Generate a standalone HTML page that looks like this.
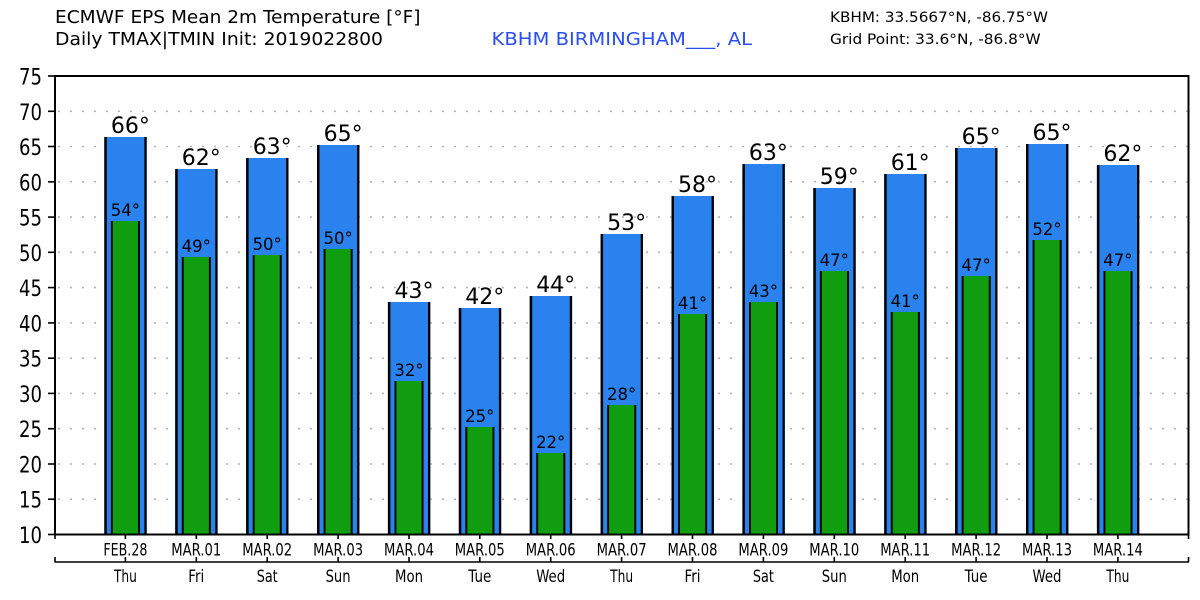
<!DOCTYPE html>
<html><head><meta charset="utf-8"><style>
html,body{margin:0;padding:0;background:#fff;}
svg{display:block;}
text{font-family:"DejaVu Sans","Liberation Sans",sans-serif;fill:#000;}
.c{font-family:"DejaVu Sans Condensed","DejaVu Sans","Liberation Sans",sans-serif;}
</style></head><body>
<svg width="1200" height="600" viewBox="0 0 1200 600" xmlns="http://www.w3.org/2000/svg">
<!-- header -->
<text x="55" y="23" font-size="18" textLength="365.5" lengthAdjust="spacingAndGlyphs">ECMWF EPS Mean 2m Temperature [°F]</text>
<text x="55" y="45" font-size="18" textLength="328" lengthAdjust="spacingAndGlyphs">Daily TMAX|TMIN Init: 2019022800</text>
<text x="491.5" y="45" font-size="18" style="fill:#2a4ef2" textLength="260.5" lengthAdjust="spacingAndGlyphs">KBHM BIRMINGHAM___, AL</text>
<text x="830" y="22" font-size="14.5" textLength="218" lengthAdjust="spacingAndGlyphs">KBHM: 33.5667°N, -86.75°W</text>
<text x="830" y="44" font-size="14.5" textLength="210.7" lengthAdjust="spacingAndGlyphs">Grid Point: 33.6°N, -86.8°W</text>

<!-- gridlines -->
<g stroke="#b4b4b4" stroke-width="1.6" stroke-dasharray="2 10">
<line x1="58" x2="1188" y1="499.2" y2="499.2"/>
<line x1="58" x2="1188" y1="464" y2="464"/>
<line x1="58" x2="1188" y1="428.7" y2="428.7"/>
<line x1="58" x2="1188" y1="393.4" y2="393.4"/>
<line x1="58" x2="1188" y1="358.2" y2="358.2"/>
<line x1="58" x2="1188" y1="322.9" y2="322.9"/>
<line x1="58" x2="1188" y1="287.6" y2="287.6"/>
<line x1="58" x2="1188" y1="252.3" y2="252.3"/>
<line x1="58" x2="1188" y1="217.1" y2="217.1"/>
<line x1="58" x2="1188" y1="181.8" y2="181.8"/>
<line x1="58" x2="1188" y1="146.5" y2="146.5"/>
<line x1="58" x2="1188" y1="111.3" y2="111.3"/>
</g>

<!-- bars -->
<g id="bars">
<rect x="104.3" y="137" width="42.4" height="397.5" fill="#2982ee"/>
<rect x="104.3" y="137" width="2.5" height="397.5" fill="#000"/>
<rect x="144.4" y="137" width="2.3" height="397.5" fill="#000"/>
<rect x="110.9" y="221" width="29" height="313.5" fill="#109e10"/>
<rect x="110.9" y="221" width="1.9" height="313.5" fill="#000"/>
<rect x="138" y="221" width="1.9" height="313.5" fill="#000"/>
<rect x="175.2" y="169" width="42.4" height="365.5" fill="#2982ee"/>
<rect x="175.2" y="169" width="2.5" height="365.5" fill="#000"/>
<rect x="215.3" y="169" width="2.3" height="365.5" fill="#000"/>
<rect x="181.8" y="257" width="29" height="277.5" fill="#109e10"/>
<rect x="181.8" y="257" width="1.9" height="277.5" fill="#000"/>
<rect x="208.9" y="257" width="1.9" height="277.5" fill="#000"/>
<rect x="246.1" y="158" width="42.4" height="376.5" fill="#2982ee"/>
<rect x="246.1" y="158" width="2.5" height="376.5" fill="#000"/>
<rect x="286.2" y="158" width="2.3" height="376.5" fill="#000"/>
<rect x="252.7" y="255" width="29" height="279.5" fill="#109e10"/>
<rect x="252.7" y="255" width="1.9" height="279.5" fill="#000"/>
<rect x="279.8" y="255" width="1.9" height="279.5" fill="#000"/>
<rect x="317" y="145" width="42.4" height="389.5" fill="#2982ee"/>
<rect x="317" y="145" width="2.5" height="389.5" fill="#000"/>
<rect x="357.1" y="145" width="2.3" height="389.5" fill="#000"/>
<rect x="323.6" y="249" width="29" height="285.5" fill="#109e10"/>
<rect x="323.6" y="249" width="1.9" height="285.5" fill="#000"/>
<rect x="350.7" y="249" width="1.9" height="285.5" fill="#000"/>
<rect x="387.9" y="302" width="42.4" height="232.5" fill="#2982ee"/>
<rect x="387.9" y="302" width="2.5" height="232.5" fill="#000"/>
<rect x="428" y="302" width="2.3" height="232.5" fill="#000"/>
<rect x="394.5" y="381" width="29" height="153.5" fill="#109e10"/>
<rect x="394.5" y="381" width="1.9" height="153.5" fill="#000"/>
<rect x="421.6" y="381" width="1.9" height="153.5" fill="#000"/>
<rect x="458.8" y="308" width="42.4" height="226.5" fill="#2982ee"/>
<rect x="458.8" y="308" width="2.5" height="226.5" fill="#000"/>
<rect x="498.9" y="308" width="2.3" height="226.5" fill="#000"/>
<rect x="465.4" y="427" width="29" height="107.5" fill="#109e10"/>
<rect x="465.4" y="427" width="1.9" height="107.5" fill="#000"/>
<rect x="492.5" y="427" width="1.9" height="107.5" fill="#000"/>
<rect x="529.7" y="296" width="42.4" height="238.5" fill="#2982ee"/>
<rect x="529.7" y="296" width="2.5" height="238.5" fill="#000"/>
<rect x="569.8" y="296" width="2.3" height="238.5" fill="#000"/>
<rect x="536.3" y="453" width="29" height="81.5" fill="#109e10"/>
<rect x="536.3" y="453" width="1.9" height="81.5" fill="#000"/>
<rect x="563.4" y="453" width="1.9" height="81.5" fill="#000"/>
<rect x="600.6" y="234" width="42.4" height="300.5" fill="#2982ee"/>
<rect x="600.6" y="234" width="2.5" height="300.5" fill="#000"/>
<rect x="640.7" y="234" width="2.3" height="300.5" fill="#000"/>
<rect x="607.2" y="405" width="29" height="129.5" fill="#109e10"/>
<rect x="607.2" y="405" width="1.9" height="129.5" fill="#000"/>
<rect x="634.3" y="405" width="1.9" height="129.5" fill="#000"/>
<rect x="671.5" y="196" width="42.4" height="338.5" fill="#2982ee"/>
<rect x="671.5" y="196" width="2.5" height="338.5" fill="#000"/>
<rect x="711.6" y="196" width="2.3" height="338.5" fill="#000"/>
<rect x="678.1" y="314" width="29" height="220.5" fill="#109e10"/>
<rect x="678.1" y="314" width="1.9" height="220.5" fill="#000"/>
<rect x="705.2" y="314" width="1.9" height="220.5" fill="#000"/>
<rect x="742.4" y="164" width="42.4" height="370.5" fill="#2982ee"/>
<rect x="742.4" y="164" width="2.5" height="370.5" fill="#000"/>
<rect x="782.5" y="164" width="2.3" height="370.5" fill="#000"/>
<rect x="749" y="302" width="29" height="232.5" fill="#109e10"/>
<rect x="749" y="302" width="1.9" height="232.5" fill="#000"/>
<rect x="776.1" y="302" width="1.9" height="232.5" fill="#000"/>
<rect x="813.3" y="188" width="42.4" height="346.5" fill="#2982ee"/>
<rect x="813.3" y="188" width="2.5" height="346.5" fill="#000"/>
<rect x="853.4" y="188" width="2.3" height="346.5" fill="#000"/>
<rect x="819.9" y="271" width="29" height="263.5" fill="#109e10"/>
<rect x="819.9" y="271" width="1.9" height="263.5" fill="#000"/>
<rect x="847" y="271" width="1.9" height="263.5" fill="#000"/>
<rect x="884.2" y="174" width="42.4" height="360.5" fill="#2982ee"/>
<rect x="884.2" y="174" width="2.5" height="360.5" fill="#000"/>
<rect x="924.3" y="174" width="2.3" height="360.5" fill="#000"/>
<rect x="890.8" y="312" width="29" height="222.5" fill="#109e10"/>
<rect x="890.8" y="312" width="1.9" height="222.5" fill="#000"/>
<rect x="917.9" y="312" width="1.9" height="222.5" fill="#000"/>
<rect x="955.1" y="148" width="42.4" height="386.5" fill="#2982ee"/>
<rect x="955.1" y="148" width="2.5" height="386.5" fill="#000"/>
<rect x="995.2" y="148" width="2.3" height="386.5" fill="#000"/>
<rect x="961.7" y="276" width="29" height="258.5" fill="#109e10"/>
<rect x="961.7" y="276" width="1.9" height="258.5" fill="#000"/>
<rect x="988.8" y="276" width="1.9" height="258.5" fill="#000"/>
<rect x="1026" y="144" width="42.4" height="390.5" fill="#2982ee"/>
<rect x="1026" y="144" width="2.5" height="390.5" fill="#000"/>
<rect x="1066.1" y="144" width="2.3" height="390.5" fill="#000"/>
<rect x="1032.6" y="240" width="29" height="294.5" fill="#109e10"/>
<rect x="1032.6" y="240" width="1.9" height="294.5" fill="#000"/>
<rect x="1059.7" y="240" width="1.9" height="294.5" fill="#000"/>
<rect x="1096.9" y="165" width="42.4" height="369.5" fill="#2982ee"/>
<rect x="1096.9" y="165" width="2.5" height="369.5" fill="#000"/>
<rect x="1137" y="165" width="2.3" height="369.5" fill="#000"/>
<rect x="1103.5" y="271" width="29" height="263.5" fill="#109e10"/>
<rect x="1103.5" y="271" width="1.9" height="263.5" fill="#000"/>
<rect x="1130.6" y="271" width="1.9" height="263.5" fill="#000"/>
</g>

<!-- TMAX labels -->
<g font-size="22" text-anchor="middle">
<text x="130.4" y="133">66°</text>
<text x="201.3" y="165">62°</text>
<text x="272.2" y="154">63°</text>
<text x="343.1" y="141">65°</text>
<text x="414" y="298">43°</text>
<text x="484.8" y="304">42°</text>
<text x="555.7" y="292">44°</text>
<text x="626.6" y="230">53°</text>
<text x="697.5" y="192">58°</text>
<text x="768.4" y="160">63°</text>
<text x="839.3" y="184">59°</text>
<text x="910.2" y="170">61°</text>
<text x="981.1" y="144">65°</text>
<text x="1052" y="140">65°</text>
<text x="1122.9" y="161">62°</text>
</g>
<!-- TMIN labels -->
<g font-size="16.5" text-anchor="middle">
<text x="125.4" y="216">54°</text>
<text x="196.3" y="252">49°</text>
<text x="267.2" y="250">50°</text>
<text x="338.1" y="244">50°</text>
<text x="409" y="376">32°</text>
<text x="479.8" y="422">25°</text>
<text x="550.7" y="448">22°</text>
<text x="621.6" y="400">28°</text>
<text x="692.5" y="309">41°</text>
<text x="763.4" y="297">43°</text>
<text x="834.3" y="266">47°</text>
<text x="905.2" y="307">41°</text>
<text x="976.1" y="271">47°</text>
<text x="1047" y="235">52°</text>
<text x="1117.9" y="266">47°</text>
</g>

<!-- frame -->
<rect x="55" y="76" width="1133.5" height="458.5" fill="none" stroke="#000" stroke-width="2"/>

<!-- y ticks and labels -->
<g stroke="#000" stroke-width="1.6">
<line x1="48" x2="55" y1="534.5" y2="534.5"/>
<line x1="48" x2="55" y1="499.2" y2="499.2"/>
<line x1="48" x2="55" y1="464" y2="464"/>
<line x1="48" x2="55" y1="428.7" y2="428.7"/>
<line x1="48" x2="55" y1="393.4" y2="393.4"/>
<line x1="48" x2="55" y1="358.2" y2="358.2"/>
<line x1="48" x2="55" y1="322.9" y2="322.9"/>
<line x1="48" x2="55" y1="287.6" y2="287.6"/>
<line x1="48" x2="55" y1="252.3" y2="252.3"/>
<line x1="48" x2="55" y1="217.1" y2="217.1"/>
<line x1="48" x2="55" y1="181.8" y2="181.8"/>
<line x1="48" x2="55" y1="146.5" y2="146.5"/>
<line x1="48" x2="55" y1="111.3" y2="111.3"/>
<line x1="48" x2="55" y1="76" y2="76"/>
</g>
<g font-size="22" class="c">
<text x="19" y="543" textLength="23" lengthAdjust="spacingAndGlyphs">10</text>
<text x="19" y="507.7" textLength="23" lengthAdjust="spacingAndGlyphs">15</text>
<text x="19" y="472.5" textLength="23" lengthAdjust="spacingAndGlyphs">20</text>
<text x="19" y="437.2" textLength="23" lengthAdjust="spacingAndGlyphs">25</text>
<text x="19" y="401.9" textLength="23" lengthAdjust="spacingAndGlyphs">30</text>
<text x="19" y="366.7" textLength="23" lengthAdjust="spacingAndGlyphs">35</text>
<text x="19" y="331.4" textLength="23" lengthAdjust="spacingAndGlyphs">40</text>
<text x="19" y="296.1" textLength="23" lengthAdjust="spacingAndGlyphs">45</text>
<text x="19" y="260.8" textLength="23" lengthAdjust="spacingAndGlyphs">50</text>
<text x="19" y="225.6" textLength="23" lengthAdjust="spacingAndGlyphs">55</text>
<text x="19" y="190.3" textLength="23" lengthAdjust="spacingAndGlyphs">60</text>
<text x="19" y="155" textLength="23" lengthAdjust="spacingAndGlyphs">65</text>
<text x="19" y="119.8" textLength="23" lengthAdjust="spacingAndGlyphs">70</text>
<text x="19" y="84.5" textLength="23" lengthAdjust="spacingAndGlyphs">75</text>
</g>

<!-- x ticks (top axis) -->
<g stroke="#000" stroke-width="1.6">
<line x1="55" x2="55" y1="534" y2="539"/>
<line x1="125.4" x2="125.4" y1="534" y2="539"/>
<line x1="196.3" x2="196.3" y1="534" y2="539"/>
<line x1="267.2" x2="267.2" y1="534" y2="539"/>
<line x1="338.1" x2="338.1" y1="534" y2="539"/>
<line x1="409" x2="409" y1="534" y2="539"/>
<line x1="479.8" x2="479.8" y1="534" y2="539"/>
<line x1="550.7" x2="550.7" y1="534" y2="539"/>
<line x1="621.6" x2="621.6" y1="534" y2="539"/>
<line x1="692.5" x2="692.5" y1="534" y2="539"/>
<line x1="763.4" x2="763.4" y1="534" y2="539"/>
<line x1="834.3" x2="834.3" y1="534" y2="539"/>
<line x1="905.2" x2="905.2" y1="534" y2="539"/>
<line x1="976.1" x2="976.1" y1="534" y2="539"/>
<line x1="1047" x2="1047" y1="534" y2="539"/>
<line x1="1117.9" x2="1117.9" y1="534" y2="539"/>
<line x1="1188.5" x2="1188.5" y1="534" y2="539"/>
</g>
<g font-size="16.5" class="c" text-anchor="middle">
<text x="125.4" y="555.5" textLength="44" lengthAdjust="spacingAndGlyphs">FEB.28</text>
<text x="196.3" y="555.5" textLength="50" lengthAdjust="spacingAndGlyphs">MAR.01</text>
<text x="267.2" y="555.5" textLength="50" lengthAdjust="spacingAndGlyphs">MAR.02</text>
<text x="338.1" y="555.5" textLength="50" lengthAdjust="spacingAndGlyphs">MAR.03</text>
<text x="409" y="555.5" textLength="50" lengthAdjust="spacingAndGlyphs">MAR.04</text>
<text x="479.8" y="555.5" textLength="50" lengthAdjust="spacingAndGlyphs">MAR.05</text>
<text x="550.7" y="555.5" textLength="50" lengthAdjust="spacingAndGlyphs">MAR.06</text>
<text x="621.6" y="555.5" textLength="50" lengthAdjust="spacingAndGlyphs">MAR.07</text>
<text x="692.5" y="555.5" textLength="50" lengthAdjust="spacingAndGlyphs">MAR.08</text>
<text x="763.4" y="555.5" textLength="50" lengthAdjust="spacingAndGlyphs">MAR.09</text>
<text x="834.3" y="555.5" textLength="50" lengthAdjust="spacingAndGlyphs">MAR.10</text>
<text x="905.2" y="555.5" textLength="50" lengthAdjust="spacingAndGlyphs">MAR.11</text>
<text x="976.1" y="555.5" textLength="50" lengthAdjust="spacingAndGlyphs">MAR.12</text>
<text x="1047" y="555.5" textLength="50" lengthAdjust="spacingAndGlyphs">MAR.13</text>
<text x="1117.9" y="555.5" textLength="50" lengthAdjust="spacingAndGlyphs">MAR.14</text>
</g>

<!-- second axis -->
<line x1="54.5" x2="1189" y1="562" y2="562" stroke="#000" stroke-width="1.6"/>
<g stroke="#000" stroke-width="1.6">
<line x1="55" x2="55" y1="557" y2="562"/>
<line x1="125.4" x2="125.4" y1="557" y2="562"/>
<line x1="196.3" x2="196.3" y1="557" y2="562"/>
<line x1="267.2" x2="267.2" y1="557" y2="562"/>
<line x1="338.1" x2="338.1" y1="557" y2="562"/>
<line x1="409" x2="409" y1="557" y2="562"/>
<line x1="479.8" x2="479.8" y1="557" y2="562"/>
<line x1="550.7" x2="550.7" y1="557" y2="562"/>
<line x1="621.6" x2="621.6" y1="557" y2="562"/>
<line x1="692.5" x2="692.5" y1="557" y2="562"/>
<line x1="763.4" x2="763.4" y1="557" y2="562"/>
<line x1="834.3" x2="834.3" y1="557" y2="562"/>
<line x1="905.2" x2="905.2" y1="557" y2="562"/>
<line x1="976.1" x2="976.1" y1="557" y2="562"/>
<line x1="1047" x2="1047" y1="557" y2="562"/>
<line x1="1117.9" x2="1117.9" y1="557" y2="562"/>
<line x1="1188.5" x2="1188.5" y1="557" y2="562"/>
</g>
<g font-size="16.5" class="c" text-anchor="middle">
<text x="125.4" y="582" textLength="23" lengthAdjust="spacingAndGlyphs">Thu</text>
<text x="196.3" y="582" textLength="16" lengthAdjust="spacingAndGlyphs">Fri</text>
<text x="267.2" y="582" textLength="21" lengthAdjust="spacingAndGlyphs">Sat</text>
<text x="338.1" y="582" textLength="25" lengthAdjust="spacingAndGlyphs">Sun</text>
<text x="409" y="582" textLength="28" lengthAdjust="spacingAndGlyphs">Mon</text>
<text x="479.8" y="582" textLength="23" lengthAdjust="spacingAndGlyphs">Tue</text>
<text x="550.7" y="582" textLength="29" lengthAdjust="spacingAndGlyphs">Wed</text>
<text x="621.6" y="582" textLength="23" lengthAdjust="spacingAndGlyphs">Thu</text>
<text x="692.5" y="582" textLength="16" lengthAdjust="spacingAndGlyphs">Fri</text>
<text x="763.4" y="582" textLength="21" lengthAdjust="spacingAndGlyphs">Sat</text>
<text x="834.3" y="582" textLength="25" lengthAdjust="spacingAndGlyphs">Sun</text>
<text x="905.2" y="582" textLength="28" lengthAdjust="spacingAndGlyphs">Mon</text>
<text x="976.1" y="582" textLength="23" lengthAdjust="spacingAndGlyphs">Tue</text>
<text x="1047" y="582" textLength="29" lengthAdjust="spacingAndGlyphs">Wed</text>
<text x="1117.9" y="582" textLength="23" lengthAdjust="spacingAndGlyphs">Thu</text>
</g>
</svg>
</body></html>
